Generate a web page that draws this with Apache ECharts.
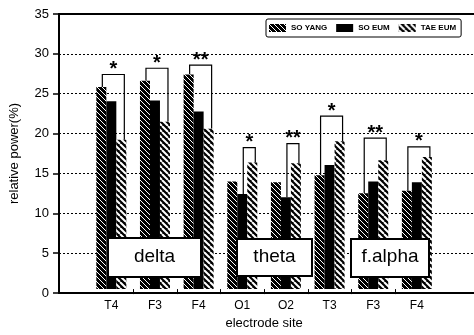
<!DOCTYPE html>
<html><head><meta charset="utf-8">
<script src="https://cdn.jsdelivr.net/npm/echarts@6/dist/echarts.min.js"></script>
<style>html,body{margin:0;padding:0;background:#fff}#c{width:474px;height:335px}</style>
</head><body><div id="c"></div>
<script>
// ---- data ----
const categories = ['T4','F3','F4','O1','O2','T3','F3','F4'];
const seriesNames = ['SO YANG','SO EUM','TAE EUM'];
const soYang = [25.7, 26.5, 27.3, 13.7, 13.6, 14.5, 12.2, 12.5];
const soEum  = [23.9, 24.0, 22.6, 12.1, 11.7, 15.8, 13.7, 13.6];
const taeEum = [19.0, 21.3, 20.4, 16.1, 16.0, 18.8, 16.4, 16.8];
const yTicks = [0, 5, 10, 15, 20, 25, 30, 35];
const sigMarks = ['*','*','**','*','**','*','**','*'];
const sigTop   = [27.3, 28.1, 28.5, 18.0, 18.5, 22.0, 19.2, 18.1];
const sigFrom  = [0, 0, 0, 1, 1, 0, 0, 0];
const sigTo    = [2, 2, 2, 2, 2, 2, 2, 2];
const bandLabels = ['delta','theta','f.alpha'];

const allSeries = [soYang, soEum, taeEum];
const FONT = 'Liberation Sans, Arial, Helvetica, sans-serif';

function hatch(size, lineW) {
  const cv = document.createElement('canvas');
  cv.width = cv.height = size;
  const ctx = cv.getContext('2d');
  ctx.fillStyle = '#000'; ctx.fillRect(0, 0, size, size);
  ctx.strokeStyle = '#fff'; ctx.lineWidth = lineW;
  for (let k = -1; k <= 1; k++) {
    ctx.beginPath(); ctx.moveTo(k * size, 0); ctx.lineTo(k * size + size, size); ctx.stroke();
  }
  return cv;
}
const patYang = { image: hatch(5, 1), repeat: 'repeat' };
const patTae = { image: hatch(6, 2), repeat: 'repeat' };
const colors = [patYang, '#000', patTae];

const BW = 10;
const chart = echarts.init(document.getElementById('c'), null, { renderer: 'canvas' });

const barSeries = seriesNames.map((n, k) => ({
  name: n, type: 'bar', xAxisIndex: 2, yAxisIndex: 1,
  data: allSeries[k], barWidth: BW, barGap: '0%',
  itemStyle: { color: colors[k], borderColor: '#000', borderWidth: 0 },
  emphasis: { disabled: true }, animation: false
}));

const sigSeries = {
  type: 'custom', xAxisIndex: 2, yAxisIndex: 1, clip: false, silent: true, animation: false,
  data: categories.map((c, i) => [i, sigTop[i]]),
  encode: { x: 0, y: 1 },
  renderItem: function (params, api) {
    const i = api.value(0);
    const top = api.coord([i, api.value(1)]);
    const cx = top[0];
    const f = sigFrom[i], t = sigTo[i];
    const lx = cx + (f - 1) * BW + 1;
    const rx = cx + (t - 1) * BW + 3;
    const ly = api.coord([i, allSeries[f][i]])[1];
    const ry = api.coord([i, allSeries[t][i]])[1];
    return {
      type: 'group',
      children: [
        { type: 'polyline', shape: { points: [[lx, ly], [lx, top[1]], [rx, top[1]], [rx, ry]] },
          style: { stroke: '#000', lineWidth: 1.2, fill: null } },
        { type: 'text', x: (lx + rx) / 2, y: top[1] - 5,
          style: { text: sigMarks[i], fontSize: 20, fontWeight: 'bold', fontFamily: FONT,
                   fill: '#000', align: 'center', verticalAlign: 'middle' } }
      ]
    };
  }
};

const tickSeries = {
  type: 'custom', xAxisIndex: 2, yAxisIndex: 1, clip: false, silent: true, animation: false,
  data: categories.map((c, i) => [i, 0]).slice(1),
  encode: { x: 0, y: 1 },
  renderItem: function (params, api) {
    const p = api.coord([api.value(0), 0]);
    const band = api.size([1, 0])[0];
    const x = Math.round(p[0] - band / 2) + 0.5;
    return { type: 'line', shape: { x1: x, y1: p[1], x2: x, y2: p[1] + 5 },
             style: { stroke: '#000', lineWidth: 1 } };
  }
};

function box(x, y, w, h, label) {
  return [
    { type: 'rect', z: 100, shape: { x: x, y: y, width: w, height: h },
      style: { fill: '#fff', stroke: '#000', lineWidth: 2 } },
    { type: 'text', z: 101, x: x + w / 2, y: y + h / 2 - 1,
      style: { text: label, fontSize: 19, fontFamily: FONT, fill: '#000', align: 'center', verticalAlign: 'middle' } }
  ];
}

const option = {
  backgroundColor: '#fff',
  animation: false,
  grid: [
    { left: 57, right: 0, top: 14, bottom: 42, containLabel: false },
    { left: 89.5, width: 349.2, top: 14, bottom: 42, containLabel: false }
  ],
  legend: {
    data: seriesNames, left: 266, top: 19,
    itemWidth: 17, itemHeight: 8, itemGap: 9, icon: 'rect',
    padding: [5, 5, 5, 3],
    borderColor: '#000', borderWidth: 1, borderRadius: 2,
    textStyle: { fontSize: 8, fontWeight: 'bold', color: '#000', fontFamily: FONT },
    selectedMode: false
  },
  xAxis: [
    { gridIndex: 0, type: 'value', min: 0, max: 1, position: 'bottom',
      axisLine: { show: true, lineStyle: { color: '#000', width: 2 } },
      axisTick: { show: false }, axisLabel: { show: false }, splitLine: { show: false } },
    { gridIndex: 0, type: 'value', min: 0, max: 1, position: 'top',
      axisLine: { show: true, lineStyle: { color: '#000', width: 2 } },
      axisTick: { show: false }, axisLabel: { show: false }, splitLine: { show: false } },
    { gridIndex: 1, type: 'category', data: categories,
      axisLine: { show: false }, axisTick: { show: false }, splitLine: { show: false },
      axisLabel: { color: '#000', fontSize: 12, fontFamily: FONT, margin: 11, interval: 0 },
      name: 'electrode site', nameLocation: 'middle', nameGap: 27,
      nameTextStyle: { color: '#000', fontSize: 13, fontFamily: FONT } }
  ],
  yAxis: [
    { gridIndex: 0, type: 'value', min: yTicks[0], max: yTicks[yTicks.length - 1], interval: 5,
      axisLine: { show: true, lineStyle: { color: '#000', width: 2 } },
      axisTick: { show: true, length: 6, lineStyle: { color: '#000', width: 1.5 } },
      axisLabel: { color: '#000', fontSize: 13, fontFamily: FONT, margin: 10 },
      splitLine: { show: true, lineStyle: { color: '#000', width: 1, type: [2, 2] } },
      name: 'relative power(%)', nameLocation: 'middle', nameGap: 38, nameRotate: 90,
      nameTextStyle: { color: '#000', fontSize: 13, fontFamily: FONT } },
    { gridIndex: 1, type: 'value', min: yTicks[0], max: yTicks[yTicks.length - 1], interval: 5,
      axisLine: { show: false }, axisTick: { show: false }, axisLabel: { show: false }, splitLine: { show: false } }
  ],
  series: barSeries.concat([sigSeries, tickSeries]),
  graphic: [].concat(
    box(108, 238, 93, 39, bandLabels[0]),
    box(237, 239, 75, 37, bandLabels[1]),
    box(351, 239, 78, 38, bandLabels[2])
  )
};
chart.setOption(option);
</script>
</body></html>
